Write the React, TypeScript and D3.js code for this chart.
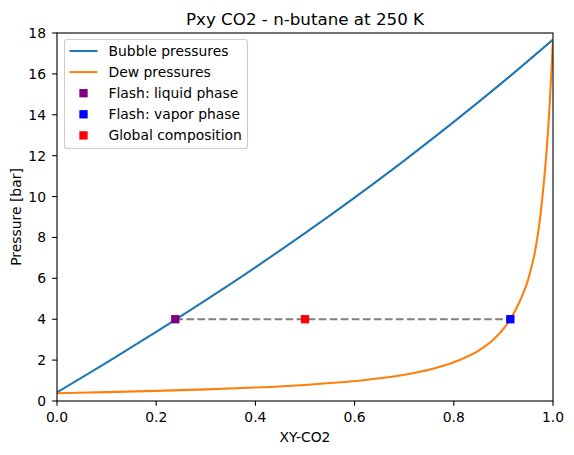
import React from "react";
import * as d3 from "d3";

// Bubble pressure curve (x = liquid CO2 fraction, P in bar)
const bubbleX = [0, 0.1, 0.2, 0.3, 0.4, 0.5, 0.6, 0.7, 0.8, 0.9, 1.0];
const bubbleP = [0.42, 1.88, 3.38, 4.93, 6.54, 8.21, 9.95, 11.76, 13.65, 15.62, 17.68];

// Dew pressure curve (y = vapour CO2 fraction, P in bar)
const dewX = [0, 0.1, 0.2, 0.3, 0.4, 0.5, 0.6, 0.7, 0.75, 0.8, 0.85, 0.88, 0.9, 0.914, 0.933, 0.95, 0.964, 0.9725, 0.98, 0.987, 0.994, 1.0];
const dewP = [0.38, 0.436, 0.496, 0.569, 0.66, 0.786, 0.975, 1.284, 1.531, 1.894, 2.466, 3.01, 3.525, 4.0, 4.88, 5.95, 7.35, 8.65, 10.3, 12.2, 14.8, 17.68];

// Flash result
const flashP = 4.0;
const liquidX = 0.2385;
const vaporX = 0.914;
const globalX = 0.5;

const xTicks = [0, 0.2, 0.4, 0.6, 0.8, 1.0];
const yTicks = [0, 2, 4, 6, 8, 10, 12, 14, 16, 18];

const legendItems = [
  { label: "Bubble pressures", kind: "line", color: "#1f77b4" },
  { label: "Dew pressures", kind: "line", color: "#ff7f0e" },
  { label: "Flash: liquid phase", kind: "marker", color: "#800080" },
  { label: "Flash: vapor phase", kind: "marker", color: "#0000ff" },
  { label: "Global composition", kind: "marker", color: "#ff0000" },
];

const W = 574;
const H = 455;
const L = 57, R = 553, T = 33, B = 401;
const FONT = "DejaVu Sans, sans-serif";

export default function App() {
  const x = d3.scaleLinear().domain([0, 1]).range([L, R]);
  const y = d3.scaleLinear().domain([0, 18]).range([B, T]);

  const line = d3
    .line<[number, number]>()
    .x((d) => x(d[0]))
    .y((d) => y(d[1]))
    .curve(d3.curveMonotoneX);

  const bubblePath = line(bubbleX.map((v, i) => [v, bubbleP[i]]) as [number, number][]) || "";
  const dewPath = line(dewX.map((v, i) => [v, dewP[i]]) as [number, number][]) || "";

  const ms = 8.33;
  const marker = (cx: number, cy: number, color: string, key: string) => (
    <rect key={key} x={cx - ms / 2} y={cy - ms / 2} width={ms} height={ms} fill={color} />
  );

  const legX = 64.5, legY = 39.5, legW = 183, legH = 109;
  const rowY = (i: number) => 51 + i * 21.1;

  return (
    <svg
      width={W}
      height={H}
      style={{ position: "absolute", left: 0, top: 0, background: "#fff" }}
      fontFamily={FONT}
    >
      <rect x={0} y={0} width={W} height={H} fill="#fff" />
      <defs>
        <clipPath id="plotclip">
          <rect x={L} y={T} width={R - L} height={B - T} />
        </clipPath>
      </defs>
      <g clipPath="url(#plotclip)">
        <path d={bubblePath} fill="none" stroke="#1f77b4" strokeWidth={2.08} />
        <path d={dewPath} fill="none" stroke="#ff7f0e" strokeWidth={2.08} />
        <line
          x1={x(liquidX)}
          x2={x(vaporX)}
          y1={y(flashP)}
          y2={y(flashP)}
          stroke="#808080"
          strokeWidth={2.08}
          strokeDasharray="7.7,3.33"
        />
        {marker(x(liquidX), y(flashP), "#800080", "liq")}
        {marker(x(vaporX), y(flashP), "#0000ff", "vap")}
        {marker(x(globalX), y(flashP), "#ff0000", "glob")}
      </g>

      {/* axes frame */}
      <rect x={L} y={T} width={R - L} height={B - T} fill="none" stroke="#000" strokeWidth={1.1} />

      {/* x ticks */}
      {xTicks.map((t) => (
        <g key={"x" + t}>
          <line x1={x(t)} x2={x(t)} y1={B} y2={B + 4.86} stroke="#000" strokeWidth={1.1} />
          <text x={x(t)} y={422} fontSize={13.9} textAnchor="middle" fill="#000">
            {t.toFixed(1)}
          </text>
        </g>
      ))}
      {/* y ticks */}
      {yTicks.map((t) => (
        <g key={"y" + t}>
          <line x1={L - 4.86} x2={L} y1={y(t)} y2={y(t)} stroke="#000" strokeWidth={1.1} />
          <text x={46} y={y(t)} dy="0.36em" fontSize={13.9} textAnchor="end" fill="#000">
            {t}
          </text>
        </g>
      ))}

      {/* labels */}
      <text x={(L + R) / 2} y={441.5} fontSize={13.9} textAnchor="middle" fill="#000">
        XY-CO2
      </text>
      <text
        transform={`translate(20.5,${(T + B) / 2}) rotate(-90)`}
        fontSize={13.9}
        textAnchor="middle"
        fill="#000"
      >
        Pressure [bar]
      </text>
      <text x={(L + R) / 2} y={25} fontSize={16.7} textAnchor="middle" fill="#000">
        Pxy CO2 - n-butane at 250 K
      </text>

      {/* legend */}
      <rect
        x={legX}
        y={legY}
        width={legW}
        height={legH}
        rx={2.8}
        ry={2.8}
        fill="#fff"
        fillOpacity={0.8}
        stroke="#cccccc"
        strokeWidth={1.1}
      />
      {legendItems.map((item, i) => (
        <g key={item.label}>
          {item.kind === "line" ? (
            <line x1={69.5} x2={97.5} y1={rowY(i)} y2={rowY(i)} stroke={item.color} strokeWidth={2.08} />
          ) : (
            <rect x={83.5 - ms / 2} y={rowY(i) - ms / 2} width={ms} height={ms} fill={item.color} />
          )}
          <text x={108.5} y={rowY(i)} dy="0.36em" fontSize={13.9} fill="#000">
            {item.label}
          </text>
        </g>
      ))}
    </svg>
  );
}
